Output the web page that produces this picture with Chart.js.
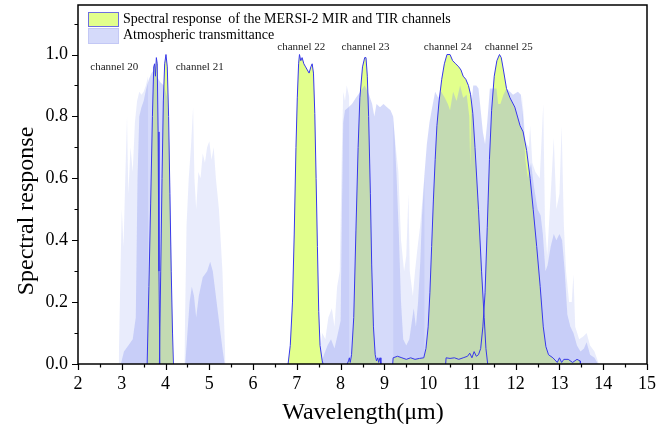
<!DOCTYPE html>
<html><head><meta charset="utf-8">
<script src="https://cdn.jsdelivr.net/npm/chart.js@4/dist/chart.umd.min.js"></script>
<style>html,body{margin:0;padding:0;background:#fff}#wrap{width:668px;height:439px}</style>
</head><body><div id="wrap"><canvas id="c" width="668" height="439"></canvas></div>
<script>
// ---- DATA (wavelength in µm, value) ----
const ch20 = [[3.58,0],[3.62,0.25],[3.66,0.52],[3.70,0.80],[3.73,0.96],[3.75,0.97],[3.77,0.93],[3.79,0.99],[3.81,0.97],[3.83,0.75],[3.85,0.30],[3.87,0]];
const ch21 = [[3.86,0],[3.89,0.30],[3.92,0.60],[3.95,0.85],[3.98,0.97],[4.01,1.00],[4.04,0.96],[4.07,0.80],[4.10,0.55],[4.13,0.30],[4.16,0.10],[4.18,0]];
const ch22 = [[6.80,0],[6.85,0.06],[6.90,0.20],[6.94,0.42],[6.98,0.70],[7.01,0.86],[7.04,0.97],[7.06,1.00],[7.09,0.98],[7.12,0.99],[7.16,0.97],[7.20,0.96],[7.24,0.95],[7.28,0.94],[7.32,0.96],[7.35,0.97],[7.38,0.94],[7.41,0.81],[7.44,0.60],[7.47,0.38],[7.50,0.17],[7.53,0.06],[7.58,0.01],[7.60,0]];
const ch23 = [[8.15,0],[8.18,0.01],[8.20,0.02],[8.22,0.005],[8.25,0.03],[8.30,0.15],[8.35,0.43],[8.40,0.70],[8.44,0.86],[8.50,0.96],[8.55,0.99],[8.58,0.99],[8.61,0.93],[8.64,0.80],[8.68,0.55],[8.71,0.32],[8.75,0.12],[8.79,0.03],[8.82,0.01],[8.85,0.02],[8.87,0.005],[8.90,0.02],[8.92,0]];
const ch24 = [[9.19,0],[9.20,0.02],[9.30,0.025],[9.40,0.02],[9.50,0.015],[9.60,0.02],[9.70,0.015],[9.80,0.018],[9.90,0.02],[9.95,0.05],[10.00,0.12],[10.04,0.23],[10.08,0.38],[10.12,0.53],[10.16,0.66],[10.20,0.77],[10.25,0.85],[10.31,0.92],[10.37,0.97],[10.43,1.00],[10.50,1.00],[10.56,0.98],[10.63,0.97],[10.70,0.96],[10.75,0.95],[10.80,0.93],[10.86,0.92],[10.92,0.90],[10.97,0.87],[11.02,0.81],[11.07,0.70],[11.15,0.50],[11.22,0.30],[11.28,0.15],[11.32,0.05],[11.36,0]];
const ch25 = [[10.40,0],[10.41,0.02],[10.50,0.018],[10.60,0.02],[10.70,0.015],[10.80,0.02],[10.90,0.025],[10.95,0.035],[11.00,0.02],[11.05,0.04],[11.10,0.025],[11.15,0.03],[11.20,0.05],[11.25,0.12],[11.30,0.23],[11.35,0.44],[11.40,0.66],[11.45,0.82],[11.51,0.93],[11.57,0.98],[11.63,1.00],[11.67,0.99],[11.72,0.95],[11.79,0.89],[11.87,0.86],[11.98,0.83],[12.10,0.77],[12.17,0.75],[12.25,0.69],[12.33,0.60],[12.40,0.50],[12.48,0.38],[12.56,0.25],[12.63,0.12],[12.69,0.056],[12.75,0.03],[12.85,0.02],[12.95,0.005],[13.00,0.02],[13.05,0.005],[13.10,0.015],[13.20,0.015],[13.30,0.005],[13.40,0.015],[13.47,0.01],[13.48,0]];
const transCore = [[2.98,0],[3.05,0.04],[3.15,0.06],[3.25,0.08],[3.32,0.15],[3.36,0.60],[3.40,0.80],[3.45,0.83],[3.50,0.85],[3.56,0.89],[3.62,0.92],[3.68,0.94],[3.74,0.95],[3.80,0.93],[3.88,0.91],[3.96,0.90],[4.04,0.86],[4.09,0.70],[4.13,0.35],[4.16,0],
 [4.45,0],[4.50,0.10],[4.55,0.20],[4.60,0.25],[4.65,0.22],[4.70,0.15],[4.76,0.22],[4.85,0.28],[4.95,0.30],[5.02,0.33],[5.08,0.30],[5.15,0.22],[5.22,0.14],[5.30,0.05],[5.35,0],
 [7.55,0],[7.62,0.03],[7.70,0.06],[7.78,0.08],[7.86,0.05],[7.94,0.10],[8.00,0.14],[8.03,0.50],[8.06,0.78],[8.10,0.82],[8.18,0.83],[8.26,0.84],[8.35,0.86],[8.45,0.88],[8.55,0.90],[8.65,0.87],[8.72,0.84],[8.77,0.80],[8.82,0.84],[8.90,0.83],[8.98,0.84],[9.06,0.83],[9.14,0.82],[9.20,0.80],[9.24,0.72],[9.28,0.60],[9.33,0.42],[9.38,0.20],[9.43,0.08],[9.50,0.06],[9.57,0.08],[9.63,0.14],[9.67,0.18],[9.72,0.12],[9.77,0.20],[9.82,0.33],[9.86,0.48],[9.92,0.62],[9.97,0.71],[10.03,0.78],[10.08,0.82],[10.16,0.88],[10.23,0.86],[10.30,0.88],[10.38,0.86],[10.45,0.84],[10.50,0.82],[10.57,0.88],[10.65,0.85],[10.73,0.90],[10.80,0.86],[10.88,0.87],[10.94,0.80],[10.96,0.64],[10.99,0.84],[11.03,0.90],[11.10,0.90],[11.15,0.89],[11.20,0.82],[11.25,0.75],[11.30,0.71],[11.35,0.78],[11.41,0.89],[11.50,0.89],[11.56,0.89],[11.60,0.84],[11.65,0.84],[11.72,0.87],[11.79,0.89],[11.87,0.88],[11.94,0.87],[12.05,0.88],[12.12,0.87],[12.17,0.80],[12.22,0.66],[12.28,0.60],[12.35,0.65],[12.42,0.57],[12.50,0.50],[12.57,0.48],[12.62,0.42],[12.68,0.30],[12.73,0.32],[12.80,0.38],[12.87,0.42],[12.93,0.40],[13.00,0.42],[13.06,0.40],[13.12,0.30],[13.18,0.16],[13.25,0.12],[13.32,0.10],[13.40,0.06],[13.48,0.04],[13.56,0.05],[13.62,0.07],[13.70,0.03],[13.80,0.02],[13.88,0]];
const transFaint = [[2.93,0],[2.97,0.30],[3.00,0.50],[3.04,0.38],[3.08,0.60],[3.12,0.80],[3.15,0.55],[3.20,0.70],[3.25,0.62],[3.30,0.78],[3.35,0.85],[3.40,0.88],[3.45,0.87],[3.50,0.88],[3.55,0.90],[3.60,0.93],[3.61,null],
 [4.43,0],[4.48,0.45],[4.53,0.60],[4.58,0.70],[4.63,0.83],[4.66,0.60],[4.70,0.50],[4.75,0.62],[4.80,0.60],[4.85,0.68],[4.90,0.65],[4.95,0.70],[5.00,0.72],[5.05,0.66],[5.10,0.70],[5.15,0.60],[5.22,0.50],[5.30,0.30],[5.37,0],[5.38,null],
 [7.50,0],[7.58,0.10],[7.65,0.08],[7.72,0.15],[7.80,0.18],[7.86,0.12],[7.92,0.25],[7.98,0.30],[8.03,0.70],[8.06,0.88],[8.10,0.85],[8.14,0.90],[8.20,0.86],[8.21,null],
 [9.20,0.80],[9.26,0.70],[9.32,0.62],[9.38,0.40],[9.45,0.30],[9.50,0.35],[9.55,0.55],[9.58,0.30],[9.65,0.22],[9.70,0.30],[9.76,0.38],[9.82,0.45],[9.88,0.55],[9.92,0.62],[9.93,null],
 [12.15,0.87],[12.22,0.72],[12.30,0.70],[12.33,0.77],[12.38,0.65],[12.45,0.62],[12.55,0.60],[12.63,0.84],[12.67,0.45],[12.72,0.35],[12.80,0.55],[12.87,0.73],[12.93,0.50],[13.00,0.55],[13.05,0.77],[13.10,0.45],[13.15,0.30],[13.22,0.20],[13.28,0.20],[13.32,0.29],[13.36,0.12],[13.45,0.08],[13.55,0.09],[13.62,0.10],[13.70,0.06],[13.80,0.04],[13.90,0]];
const xTicks = [2,3,4,5,6,7,8,9,10,11,12,13,14,15];
const yTicks = [0.0,0.2,0.4,0.6,0.8,1.0];
const channelNames = ['channel 20','channel 21','channel 22','channel 23','channel 24','channel 25'];
const channelLabelX = [2.83,4.78,7.10,8.57,10.45,11.84];
const channelLabelY = [0.96,0.96,1.023,1.023,1.023,1.023];
const legendLabels = ['Spectral response  of the MERSI-2 MIR and TIR channels','Atmospheric transmittance'];

// ---- STYLE ----
const SERIF = "'Liberation Serif','Times New Roman',serif";
const YELLOW = 'rgb(226,255,140)';
const LINE = 'rgb(55,55,235)';
const LAV_CORE = 'rgba(145,158,242,0.38)';
const LAV_FAINT = 'rgba(145,158,242,0.2)';
const NONE = 'rgba(0,0,0,0)';
const toXY = a => a.map(p => ({x:p[0], y:p[1]}));
const chans = [ch20,ch21,ch22,ch23,ch24,ch25];
const datasets = [];
datasets.push({label:'faint',data:toXY(transFaint),borderWidth:1,borderColor:NONE,backgroundColor:LAV_FAINT,fill:'origin',pointRadius:0,order:12,spanGaps:false});
chans.forEach((c,i)=>datasets.push({label:'f'+i,data:toXY(c),borderWidth:1,borderColor:NONE,backgroundColor:YELLOW,fill:'origin',pointRadius:0,order:10}));
datasets.push({label:'core',data:toXY(transCore),borderWidth:1,borderColor:NONE,backgroundColor:LAV_CORE,fill:'origin',pointRadius:0,order:5});
chans.forEach((c,i)=>datasets.push({label:'l'+i,data:toXY(c),borderWidth:1,borderColor:LINE,fill:false,pointRadius:0,order:1}));

const decor = {
  id:'decor',
  afterDraw(chart){
    const ctx = chart.ctx, xs = chart.scales.x, ys = chart.scales.y, a = chart.chartArea;
    ctx.save();
    ctx.strokeStyle='#000'; ctx.lineWidth=1.5;
    ctx.strokeRect(a.left, a.top, a.right-a.left, a.bottom-a.top);
    ctx.lineWidth=1.2;
    ctx.beginPath();
    for(let k=0; k<=26; k++){
      const v=2+k/2;
      const px = Math.round(xs.getPixelForValue(v))+0.5;
      ctx.moveTo(px,a.bottom); ctx.lineTo(px,a.bottom+(k%2===0?6:3.5));
    }
    for(let k=0; k<=11; k++){
      const py=Math.round(ys.getPixelForValue(k/10))+0.5;
      ctx.moveTo(a.left,py); ctx.lineTo(a.left-(k%2===0?6:3.5),py);
    }
    ctx.stroke();
    ctx.fillStyle='#222'; ctx.font='11px '+SERIF; ctx.textAlign='center'; ctx.textBaseline='middle';
    channelNames.forEach((n,i)=>ctx.fillText(n, xs.getPixelForValue(channelLabelX[i]), ys.getPixelForValue(channelLabelY[i])));
    const lx=88, ly=[12,28];
    ctx.lineWidth=1;
    ctx.fillStyle=YELLOW; ctx.fillRect(lx,ly[0],30,14);
    ctx.strokeStyle='rgb(110,110,225)'; ctx.strokeRect(lx+0.5,ly[0]+0.5,30,14);
    ctx.fillStyle='rgb(213,218,250)'; ctx.fillRect(lx,ly[1],30,15);
    ctx.strokeStyle='rgb(195,200,245)'; ctx.strokeRect(lx+0.5,ly[1]+0.5,30,15);
    ctx.fillStyle='#000'; ctx.font='14px '+SERIF; ctx.textAlign='left'; ctx.textBaseline='middle';
    ctx.fillText(legendLabels[0], 123, 19.5);
    ctx.fillText(legendLabels[1], 123, 35.5);
    ctx.font='24px '+SERIF; ctx.textAlign='center'; ctx.textBaseline='middle';
    ctx.fillText('Wavelength(\u03bcm)', 363, 413);
    ctx.translate(27,211); ctx.rotate(-Math.PI/2);
    ctx.fillText('Spectral response', 0, 0);
    ctx.restore();
  }
};

new Chart(document.getElementById('c'), {
  type:'line',
  data:{datasets},
  options:{
    responsive:false, animation:false, devicePixelRatio:1,
    layout:{padding:{top:5,right:21,left:0,bottom:0}},
    plugins:{legend:{display:false}, tooltip:{enabled:false}},
    elements:{line:{tension:0}},
    scales:{
      x:{type:'linear',min:2,max:15,grid:{display:false,drawTicks:false},border:{display:false},
         afterBuildTicks(s){s.ticks = xTicks.map(v=>({value:v}));},
         ticks:{font:{family:SERIF,size:18},color:'#000',padding:9,maxRotation:0,autoSkip:false},
         afterFit(s){s.height=75; s.paddingLeft=0; s.paddingRight=0;}},
      y:{type:'linear',min:0,max:1.16,grid:{display:false,drawTicks:false},border:{display:false},
         afterBuildTicks(s){s.ticks = yTicks.map(v=>({value:v}));},
         ticks:{font:{family:SERIF,size:18},color:'#000',padding:10,callback:v=>Number(v).toFixed(1)},
         afterFit(s){s.width=78; s.paddingTop=0; s.paddingBottom=0;}}
    }
  },
  plugins:[decor]
});
</script></body></html>
